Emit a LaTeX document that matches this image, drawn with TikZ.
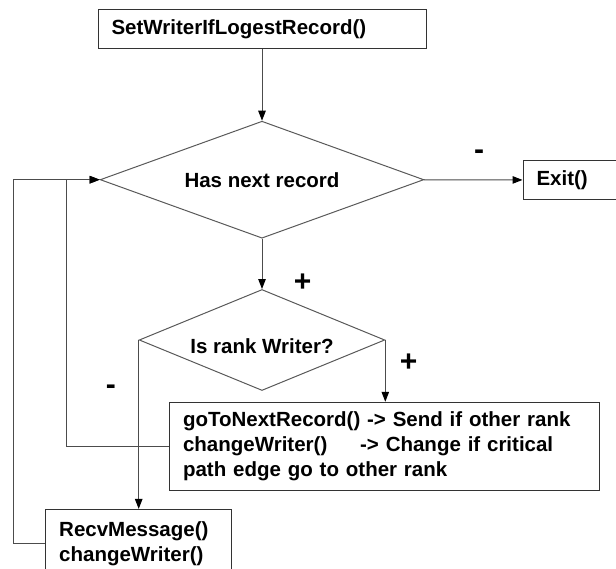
\documentclass[tikz,border=0pt]{standalone}
\usepackage{fontspec}
\setmainfont{Liberation Sans}
\usepackage{tikz}
\usetikzlibrary{arrows.meta}
\usetikzlibrary{shapes,positioning}
\tikzset{>={Triangle[length=10pt,width=7.5pt,color=black]},
  box/.style={draw=black!80,line width=1pt,inner xsep=13.5pt,inner ysep=0pt,align=left},
  decision/.style={diamond,draw=black!65,line width=1pt,inner sep=0pt},
  flow/.style={draw=black!70,line width=1pt,->},
  sign/.style={inner sep=0pt,font=\fontsize{30}{30}\bfseries\selectfont}}

\begin{document}
\begin{tikzpicture}[x=1pt,y=-1pt,line cap=butt,
  font=\fontsize{20.5}{25}\bfseries\selectfont]

  \useasboundingbox (0,0) rectangle (616,569);

  \node [box, text width=301pt, minimum height=39pt] (setw) at (262,28.8)
    {SetWriterIfLogestRecord()};

  \node [decision, aspect=2.77, minimum width=323.6pt, minimum height=117pt]
    (hasnext) at (262,179.7) {Has next record};

  \node [box, text width=67pt, minimum height=38.3pt] (exit) at (570,180)
    {Exit()};

  \node [decision, aspect=2.43, minimum width=245.6pt, minimum height=101pt,
    text height=30pt, text depth=2pt] (isrank) at (262,340) {Is rank Writer?};

  \node [box, text width=402.5pt, minimum height=88.5pt] (sendbox) at (384.3,446.5)
    {goToNextRecord() -> Send if other rank\\
     changeWriter()\hspace{1.6em}-> Change if critical\\
     path edge go to other rank};

  \node [box, text width=159pt, minimum height=68pt] (recvbox)
    at (isrank.west |- 0,543.4)
    {RecvMessage()\\changeWriter()};

  % loop back columns
  \coordinate (outerx) at (13.3,0);
  \coordinate (innerx) at (66,0);

  \draw [flow] (setw) -- (hasnext);
  \draw [flow] (hasnext) -- (exit);
  \draw [flow] (hasnext) -- (isrank);
  \draw [flow] (isrank.east) -- (isrank.east |- sendbox.north);
  \draw [flow] (isrank.west) -- (recvbox.north);

  \draw [flow] (sendbox.west) -- (sendbox.west -| innerx) |- (hasnext.west);
  \draw [flow] (recvbox.west) -- (recvbox.west -| outerx) |- (hasnext.west);

  \node [sign] (minusexit) at (479,155) {-};
  \node [sign] (plusdown) at (302.6,283) {+};
  \node [sign] (plusright) at (408.6,363) {+};
  \node [sign] (minusleft) at (110.8,390) {-};

\end{tikzpicture}
\end{document}
